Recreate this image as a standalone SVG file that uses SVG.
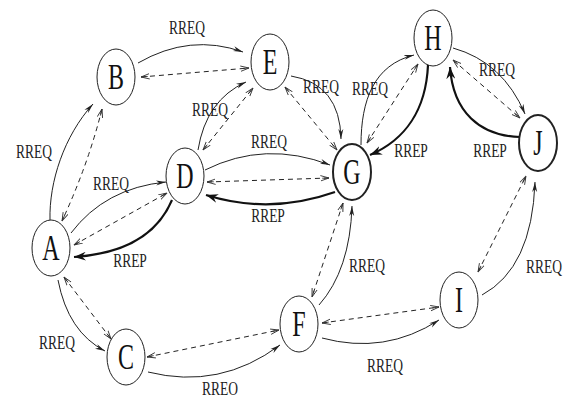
<svg xmlns="http://www.w3.org/2000/svg" width="563" height="401" viewBox="0 0 563 401">
<defs>
<style>
.node ellipse{fill:#fff;stroke:#222;stroke-width:1}
.node.bold ellipse{stroke-width:2}
.nl{font-family:"Liberation Serif","Times New Roman",serif;font-size:24px;fill:#111;text-anchor:middle}
.lb{font-family:"Liberation Serif","Times New Roman",serif;font-size:13.5px;fill:#222;text-anchor:middle}
.req{fill:none;stroke:#222;stroke-width:1;marker-end:url(#mReq)}
.dsh{fill:none;stroke:#222;stroke-width:1;stroke-dasharray:5,4;marker-start:url(#mDash);marker-end:url(#mDash)}
.rep{fill:none;stroke:#111;stroke-width:2.2;marker-end:url(#mRep)}
</style>
<marker id="mReq" viewBox="0 0 10 6" refX="10" refY="3" markerWidth="10" markerHeight="6" markerUnits="userSpaceOnUse" orient="auto">
<path d="M0,0.5 L10,3 L0,5.5 L3,3 z" fill="#222"/>
</marker>
<marker id="mDash" viewBox="0 0 10 7" refX="9.5" refY="3.5" markerWidth="9" markerHeight="7" markerUnits="userSpaceOnUse" orient="auto-start-reverse">
<path d="M0,0.5 L9.5,3.5 L0,6.5 M2,3.5 L9,3.5" fill="none" stroke="#333" stroke-width="1"/>
</marker>
<marker id="mRep" viewBox="0 0 13 9" refX="12" refY="4.5" markerWidth="13" markerHeight="9" markerUnits="userSpaceOnUse" orient="auto">
<path d="M0,0 L12,4.5 L0,9 L4,4.5 z" fill="#111"/>
</marker>
</defs>

<g id="connectors">
<!-- A-B -->
<path class="req" d="M50,220 C49,182 64,136 93,104"/>
<path class="dsh" d="M102,109 Q88,165 62,221"/>
<!-- B-E -->
<path class="dsh" d="M141,77 L249,68"/>
<path class="req" d="M138,63 Q190,33 243,52"/>
<!-- A-D -->
<path class="req" d="M71,233 Q105,188 166,182"/>
<path class="dsh" d="M74,245 L167,193"/>
<path class="rep" d="M172,200 Q150,252 74,257"/>
<!-- D-E -->
<path class="req" d="M198,150 Q206,100 246,82"/>
<path class="dsh" d="M203,150 L253,88"/>
<!-- E-G -->
<path class="req" d="M291,76 Q340,84 341,139"/>
<path class="dsh" d="M285,87 L337,150"/>
<!-- D-G -->
<path class="req" d="M205,170 Q265,140 330,165"/>
<path class="dsh" d="M207,182 L329,178"/>
<path class="rep" d="M335,192 Q270,215 206,195"/>
<!-- G-H -->
<path class="req" d="M361,145 C361,100 374,65 414,55"/>
<path class="dsh" d="M367,143 L418,64"/>
<path class="rep" d="M428,65 C426,110 405,140 370,155"/>
<!-- H-J -->
<path class="req" d="M453,48 Q503,62 525,114"/>
<path class="dsh" d="M453,60 L520,118"/>
<path class="rep" d="M520,137 C480,136 453,112 450,67"/>
<!-- G-F -->
<path class="dsh" d="M343,203 L312,297"/>
<path class="req" d="M319,305 Q350,270 352,206"/>
<!-- C-F -->
<path class="dsh" d="M147,357 L279,330"/>
<path class="req" d="M148,372 Q220,390 280,345"/>
<!-- F-I -->
<path class="dsh" d="M322,323 L439,307"/>
<path class="req" d="M322,338 Q385,355 439,320"/>
<!-- I-J -->
<path class="dsh" d="M478,272 L526,176"/>
<path class="req" d="M482,295 Q532,268 535,182"/>
<!-- A-C -->
<path class="dsh" d="M64,277 L111,339"/>
<path class="req" d="M58,280 Q68,332 105,351"/>
</g>

<g id="labels">
<text class="lb" transform="translate(187,34) scale(1,1.4)">RREQ</text>
<text class="lb" transform="translate(34,158) scale(1,1.4)">RREQ</text>
<text class="lb" transform="translate(111,190) scale(1,1.4)">RREQ</text>
<text class="lb" transform="translate(130,267) scale(1,1.4)">RREP</text>
<text class="lb" transform="translate(210,116) scale(1,1.4)">RREQ</text>
<text class="lb" transform="translate(269,148) scale(1,1.4)">RREQ</text>
<text class="lb" transform="translate(268,222) scale(1,1.4)">RREP</text>
<text class="lb" transform="translate(321,93) scale(1,1.4)">RREQ</text>
<text class="lb" transform="translate(370,95) scale(1,1.4)">RREQ</text>
<text class="lb" transform="translate(411,157) scale(1,1.4)">RREP</text>
<text class="lb" transform="translate(497,76) scale(1,1.4)">RREQ</text>
<text class="lb" transform="translate(490,157) scale(1,1.4)">RREP</text>
<text class="lb" transform="translate(367,272) scale(1,1.4)">RREQ</text>
<text class="lb" transform="translate(544,273) scale(1,1.4)">RREQ</text>
<text class="lb" transform="translate(385,372) scale(1,1.4)">RREQ</text>
<text class="lb" transform="translate(57,349) scale(1,1.4)">RREQ</text>
<text class="lb" transform="translate(220,395) scale(1,1.4)">RREO</text>
</g>

<g id="node-A" class="node"><ellipse cx="51" cy="248" rx="19" ry="28"/><text class="nl" transform="translate(51,259.5) scale(1,1.45)">A</text></g>
<g id="node-B" class="node"><ellipse cx="116" cy="77" rx="19" ry="28"/><text class="nl" transform="translate(116,88.5) scale(1,1.45)">B</text></g>
<g id="node-C" class="node"><ellipse cx="126" cy="357" rx="19" ry="28"/><text class="nl" transform="translate(126,368.5) scale(1,1.45)">C</text></g>
<g id="node-D" class="node"><ellipse cx="185" cy="176" rx="19" ry="28"/><text class="nl" transform="translate(185,187.5) scale(1,1.45)">D</text></g>
<g id="node-E" class="node"><ellipse cx="270" cy="62" rx="19" ry="28"/><text class="nl" transform="translate(270,73.5) scale(1,1.45)">E</text></g>
<g id="node-F" class="node"><ellipse cx="299" cy="324" rx="19" ry="28"/><text class="nl" transform="translate(299,335.5) scale(1,1.45)">F</text></g>
<g id="node-G" class="node bold"><ellipse cx="352" cy="172" rx="19" ry="28"/><text class="nl" transform="translate(352,183.5) scale(1,1.45)">G</text></g>
<g id="node-H" class="node"><ellipse cx="433" cy="38" rx="19" ry="28"/><text class="nl" transform="translate(433,49.5) scale(1,1.45)">H</text></g>
<g id="node-I" class="node"><ellipse cx="459" cy="300" rx="19" ry="28"/><text class="nl" transform="translate(459,311.5) scale(1,1.45)">I</text></g>
<g id="node-J" class="node bold"><ellipse cx="538" cy="143" rx="19" ry="28"/><text class="nl" transform="translate(538,154.5) scale(1,1.45)">J</text></g>
</svg>
